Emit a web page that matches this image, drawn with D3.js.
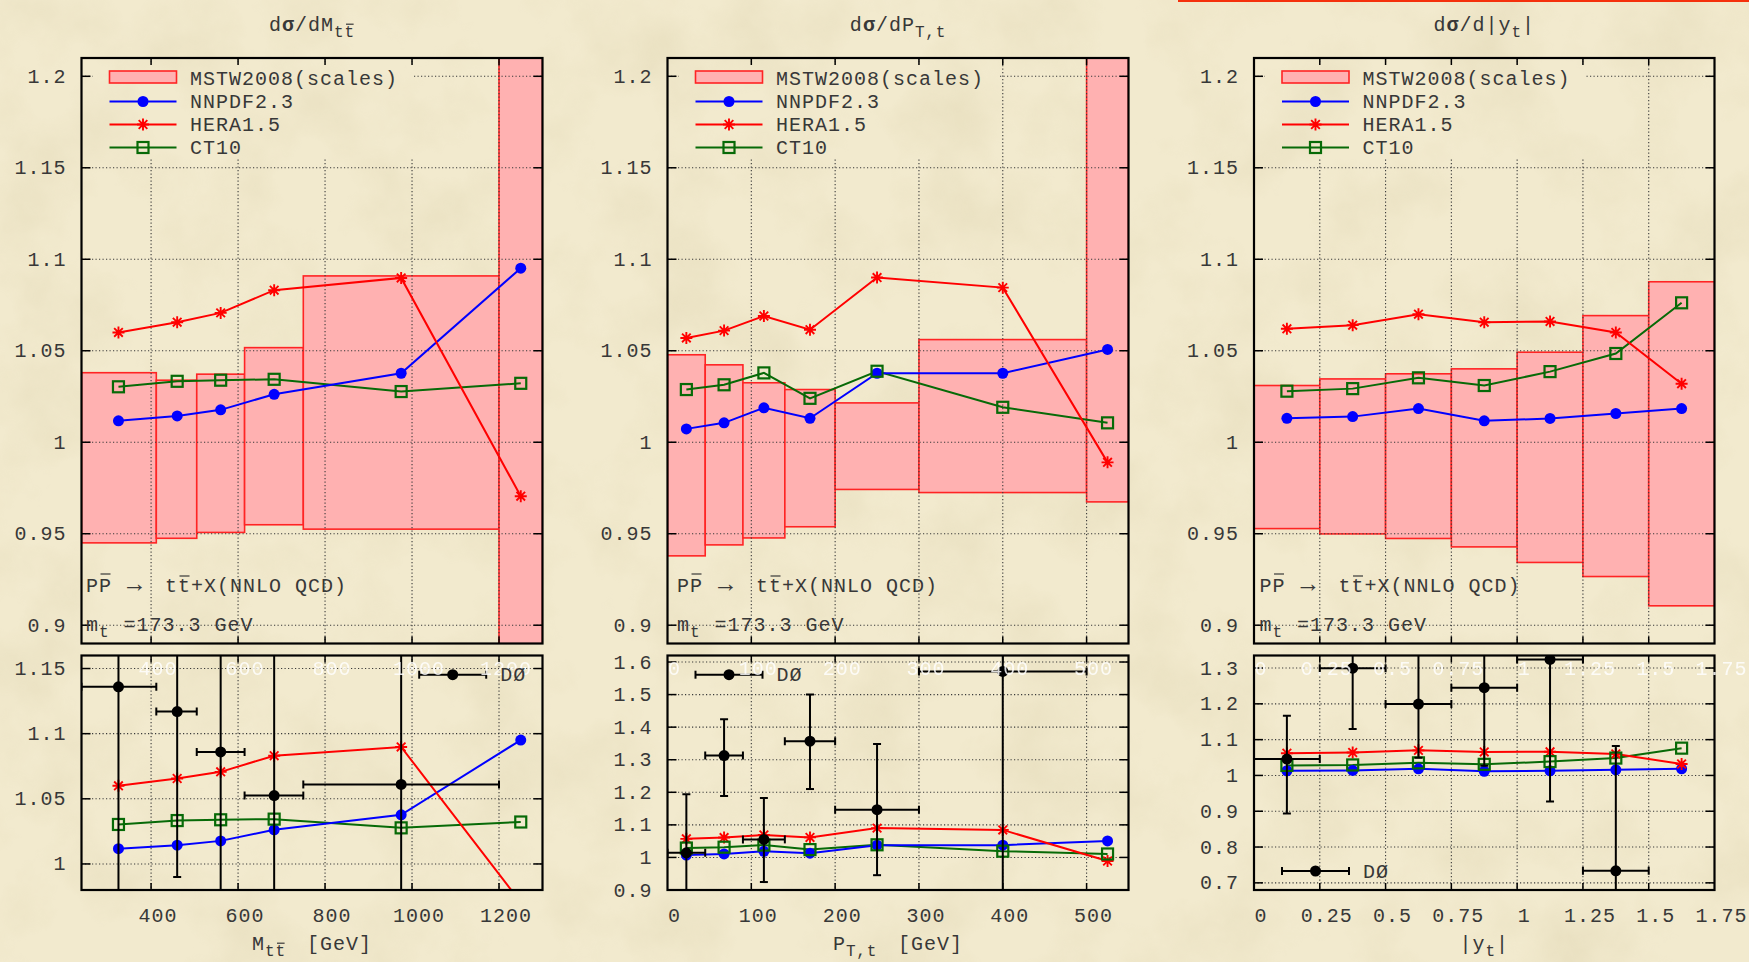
<!DOCTYPE html>
<html>
<head>
<meta charset="utf-8">
<script src="https://cdn.jsdelivr.net/npm/d3@7"></script>
<style>
  html, body { margin: 0; padding: 0; background: #f1e9cd; }
  svg { display: block; }
  text { font-family: "Nimbus Mono PS", "Courier New", "Liberation Mono", monospace; font-size: 20px; letter-spacing: 1px; fill: #383838; }
</style>
</head>
<body>
<svg id="chart" width="1749" height="962"></svg>
<script>
// ---------------- data ----------------
// Top-quark pair invariant mass  M_tt [GeV]
const mttEdges    = [240, 412, 505, 615, 750, 1200, 1300];
const mttCenters  = [325, 460, 560, 683, 975, 1250];
const mttMstwLow  = [0.945, 0.9475, 0.9507, 0.9549, 0.9525, 0.88];
const mttMstwHigh = [1.038, 1.0339, 1.0372, 1.0517, 1.0909, 1.25];
const mttNnpdf    = [1.0117, 1.0144, 1.0177, 1.0262, 1.0377, 1.0951];
const mttHera     = [1.060, 1.0656, 1.0707, 1.0831, 1.0898, 0.9705];
const mttCt10     = [1.0303, 1.0333, 1.0339, 1.0344, 1.0277, 1.0322];
const mttD0       = [1.136, 1.117, 1.086, 1.0525, 1.061];
const mttD0ErrLo  = [0.20, 0.127, 0.15, 0.13, 0.14];
const mttD0ErrHi  = [0.20, 0.127, 0.15, 0.13, 0.14];

// Top-quark transverse momentum  P_T,t [GeV]
const ptEdges    = [0, 45, 90, 140, 200, 300, 500, 550];
const ptCenters  = [22.5, 67.5, 115, 170, 250, 400, 525];
const ptMstwLow  = [0.9379, 0.9439, 0.9477, 0.9538, 0.9742, 0.9725, 0.9674];
const ptMstwHigh = [1.0478, 1.0423, 1.0325, 1.0288, 1.0215, 1.0561, 1.25];
const ptNnpdf    = [1.0073, 1.0106, 1.0188, 1.0131, 1.0377, 1.0377, 1.0507];
const ptHera     = [1.057, 1.061, 1.069, 1.0615, 1.090, 1.0845, 0.989];
const ptCt10     = [1.0288, 1.0314, 1.0379, 1.024, 1.0388, 1.0191, 1.0106];
const ptD0       = [1.014, 1.3126, 1.0554, 1.357, 1.1465, 1.571];
const ptD0ErrLo  = [0.18, 0.124, 0.131, 0.147, 0.201, 0.70];
const ptD0ErrHi  = [0.18, 0.112, 0.127, 0.143, 0.202, 0.70];

// Top-quark rapidity  |y_t|
const ytEdges    = [0, 0.25, 0.5, 0.75, 1.0, 1.25, 1.5, 1.75];
const ytCenters  = [0.125, 0.375, 0.625, 0.875, 1.125, 1.375, 1.625];
const ytMstwLow  = [0.9528, 0.9499, 0.9474, 0.9428, 0.9343, 0.9266, 0.9106];
const ytMstwHigh = [1.031, 1.0346, 1.0374, 1.0401, 1.0492, 1.0692, 1.0877];
const ytNnpdf    = [1.0131, 1.014, 1.0184, 1.0117, 1.013, 1.0157, 1.0184];
const ytHera     = [1.062, 1.064, 1.070, 1.0656, 1.066, 1.060, 1.032];
const ytCt10     = [1.0279, 1.0293, 1.0352, 1.031, 1.0386, 1.0485, 1.0762];
const ytD0       = [1.0457, 1.2995, 1.1994, 1.245, 1.324, 0.7335];
const ytD0ErrLo  = [0.152, 0.17, 0.15, 0.218, 0.397, 0.38];
const ytD0ErrHi  = [0.121, 0.17, 0.15, 0.218, 0.397, 0.349];

// ticks
const mttXTicks = [400, 600, 800, 1000, 1200];
const mttXLabels = ["400", "600", "800", "1000", "1200"];
const ptXTicks = [0, 100, 200, 300, 400, 500];
const ptXLabels = ["0", "100", "200", "300", "400", "500"];
const ytXTicks = [0, 0.25, 0.5, 0.75, 1, 1.25, 1.5, 1.75];
const ytXLabels = ["0", "0.25", "0.5", "0.75", "1", "1.25", "1.5", "1.75"];

const ratioTicks = [0.9, 0.95, 1, 1.05, 1.1, 1.15, 1.2];
const ratioLabels = ["0.9", "0.95", "1", "1.05", "1.1", "1.15", "1.2"];
const mttD0Ticks = [1, 1.05, 1.1, 1.15];
const mttD0Labels = ["1", "1.05", "1.1", "1.15"];
const ptD0Ticks = [0.9, 1, 1.1, 1.2, 1.3, 1.4, 1.5, 1.6];
const ptD0Labels = ["0.9", "1", "1.1", "1.2", "1.3", "1.4", "1.5", "1.6"];
const ytD0Ticks = [0.7, 0.8, 0.9, 1, 1.1, 1.2, 1.3];
const ytD0Labels = ["0.7", "0.8", "0.9", "1", "1.1", "1.2", "1.3"];

const seriesNames = ["MSTW2008(scales)", "NNPDF2.3", "HERA1.5", "CT10"];
const dataName = "DØ";

// ---------------- layout & style ----------------
const W = 1749, H = 962;
const TOP = [58, 643.5], BOT = [655.5, 890];
const COL = { pink: "#ffb1b1", pinkEdge: "#ff2424", blue: "#0000ff", red: "#ff0000", green: "#076a07", ink: "#383838" };

const panels = [
  { L: 81.5, Wd: 461, xDomain: [240, 1300], edges: mttEdges, centers: mttCenters,
    lo: mttMstwLow, hi: mttMstwHigh, nnpdf: mttNnpdf, hera: mttHera, ct10: mttCt10,
    d0: mttD0, d0Lo: mttD0ErrLo, d0Hi: mttD0ErrHi,
    xTicks: mttXTicks, xLabels: mttXLabels, botDomain: [0.98, 1.16], botTicks: mttD0Ticks, botLabels: mttD0Labels,
    title: [{t: "d"}, {t: "σ", bold: true}, {t: "/dM"}, {t: "t", sub: true}, {t: "t", sub: true, over: true}],
    xTitle: [{t: "M"}, {t: "t", sub: true}, {t: "t", sub: true, over: true}, {t: " [GeV]", dx: 8}],
    procDx: 4.5, d0Key: { x0: 337.7, y: 674.7 } },
  { L: 667.5, Wd: 461, xDomain: [0, 550], edges: ptEdges, centers: ptCenters,
    lo: ptMstwLow, hi: ptMstwHigh, nnpdf: ptNnpdf, hera: ptHera, ct10: ptCt10,
    d0: ptD0, d0Lo: ptD0ErrLo, d0Hi: ptD0ErrHi,
    xTicks: ptXTicks, xLabels: ptXLabels, botDomain: [0.9, 1.62], botTicks: ptD0Ticks, botLabels: ptD0Labels,
    title: [{t: "d"}, {t: "σ", bold: true}, {t: "/dP"}, {t: "T,t", sub: true}],
    xTitle: [{t: "P"}, {t: "T,t", sub: true}, {t: " [GeV]", dx: 8}],
    procDx: 9.5, d0Key: { x0: 28, y: 674.7 } },
  { L: 1254, Wd: 460.5, xDomain: [0, 1.75], edges: ytEdges, centers: ytCenters,
    lo: ytMstwLow, hi: ytMstwHigh, nnpdf: ytNnpdf, hera: ytHera, ct10: ytCt10,
    d0: ytD0, d0Lo: ytD0ErrLo, d0Hi: ytD0ErrHi,
    xTicks: ytXTicks, xLabels: ytXLabels, botDomain: [0.68, 1.335], botTicks: ytD0Ticks, botLabels: ytD0Labels,
    title: [{t: "d"}, {t: "σ", bold: true}, {t: "/d|y"}, {t: "t", sub: true}, {t: "|"}],
    xTitle: [{t: "|y"}, {t: "t", sub: true}, {t: "|"}],
    procDx: 5.5, d0Key: { x0: 28, y: 871 } }
];

// ---------------- drawing ----------------
const svg = d3.select("#chart");
const defs = svg.append("defs");

// parchment texture for the page background
const paper = defs.append("filter").attr("id", "paper")
  .attr("x", 0).attr("y", 0).attr("width", "100%").attr("height", "100%");
paper.append("feTurbulence").attr("type", "fractalNoise").attr("baseFrequency", "0.011")
  .attr("numOctaves", 5).attr("seed", 7).attr("result", "n");
paper.append("feColorMatrix").attr("type", "matrix")
  .attr("values", "0 0 0 0 0.55  0 0 0 0 0.47  0 0 0 0 0.25  0.9 0 0 0 -0.38");

svg.append("rect").attr("width", W).attr("height", H).attr("fill", "#f2eace");
svg.append("rect").attr("width", W).attr("height", H).attr("filter", "url(#paper)").attr("opacity", 0.4);
svg.append("rect").attr("x", 1178).attr("y", 0).attr("width", W - 1178).attr("height", 2).attr("fill", "#f5300c");

function richText(g, x, y, segs, anchor, fill) {
  const t = g.append("text").attr("x", x).attr("y", y);
  if (anchor) t.attr("text-anchor", anchor);
  if (fill) t.style("fill", fill);
  let idx = 0, shift = 0;
  const overs = [];
  segs.forEach(s => {
    const ts = t.append("tspan").text(s.t);
    const target = s.sub ? 6 : 0;
    if (target !== shift) { ts.attr("dy", target - shift); shift = target; }
    if (s.sub) ts.style("font-size", "16px").style("letter-spacing", "0.8px");
    if (s.bold) ts.style("font-weight", "bold");
    if (s.dx) ts.attr("dx", s.dx);
    if (s.over) overs.push({ i: idx, sub: !!s.sub, ch: s.t });
    idx += s.t.length;
  });
  overs.forEach(o => {
    const e = t.node().getExtentOfChar(o.i);
    const fs = o.sub ? 16 : 20;
    const base = y + (o.sub ? 6 : 0);
    const h = o.ch === "P" ? 0.9 * fs : 0.8 * fs;
    g.append("line").attr("x1", e.x + 1.5).attr("x2", e.x + 0.6 * fs - 0.5)
      .attr("y1", base - h).attr("y2", base - h)
      .attr("stroke", fill || COL.ink).attr("stroke-width", 1.2);
  });
  return t;
}

function starPath(s) {
  const d = s * 0.72;
  return `M${-s},0H${s}M0,${-s}V${s}M${-d},${-d}L${d},${d}M${-d},${d}L${d},${-d}`;
}

function drawSeries(g, xs, ys, p) {
  const line = d3.line().x((d, i) => xs(p.centers[i])).y(d => ys(d));
  g.append("path").datum(p.ct10).attr("d", line).attr("fill", "none").attr("stroke", COL.green).attr("stroke-width", 2);
  g.append("path").datum(p.nnpdf).attr("d", line).attr("fill", "none").attr("stroke", COL.blue).attr("stroke-width", 2);
  g.append("path").datum(p.hera).attr("d", line).attr("fill", "none").attr("stroke", COL.red).attr("stroke-width", 2);
  p.nnpdf.forEach((v, i) => g.append("circle").attr("cx", xs(p.centers[i])).attr("cy", ys(v)).attr("r", 5.5).attr("fill", COL.blue));
  p.hera.forEach((v, i) => g.append("path").attr("transform", `translate(${xs(p.centers[i])},${ys(v)})`)
    .attr("d", starPath(6)).attr("stroke", COL.red).attr("stroke-width", 1.9).attr("fill", "none"));
  p.ct10.forEach((v, i) => g.append("rect").attr("x", xs(p.centers[i]) - 5.5).attr("y", ys(v) - 5.5)
    .attr("width", 11).attr("height", 11).attr("fill", "none").attr("stroke", COL.green).attr("stroke-width", 2.2));
}

function drawGrid(g, xs, ys, xTicks, yTicks, y0, y1, L, R) {
  const grid = g.append("g").attr("stroke", "#3a3a3a").attr("stroke-width", 1.1).attr("stroke-dasharray", "1.2,2.3");
  yTicks.forEach(v => {
    const y = ys(v);
    if (y < y0 + 1 || y > y1 - 1) return;
    grid.append("line").attr("x1", L).attr("x2", R).attr("y1", y).attr("y2", y);
  });
  xTicks.forEach(v => {
    const x = xs(v);
    if (x < L + 1 || x > R - 1) return;
    grid.append("line").attr("x1", x).attr("x2", x).attr("y1", y0).attr("y2", y1);
  });
  return grid;
}

function drawFrame(g, xs, ys, xTicks, yTicks, y0, y1, L, R) {
  const fr = g.append("g").attr("stroke", "#000").attr("fill", "none");
  yTicks.forEach(v => {
    const y = ys(v);
    if (y < y0 || y > y1) return;
    fr.append("line").attr("x1", L).attr("x2", L + 9).attr("y1", y).attr("y2", y).attr("stroke-width", 1.5);
    fr.append("line").attr("x1", R - 9).attr("x2", R).attr("y1", y).attr("y2", y).attr("stroke-width", 1.5);
  });
  xTicks.forEach(v => {
    const x = xs(v);
    if (x < L + 1 || x > R - 1) return;
    fr.append("line").attr("x1", x).attr("x2", x).attr("y1", y0).attr("y2", y0 + 7).attr("stroke-width", 1.5);
    fr.append("line").attr("x1", x).attr("x2", x).attr("y1", y1 - 7).attr("y2", y1).attr("stroke-width", 1.5);
  });
  fr.append("rect").attr("x", L).attr("y", y0).attr("width", R - L).attr("height", y1 - y0).attr("stroke-width", 2.2);
}

function yLabels(g, ys, ticks, labels, L) {
  ticks.forEach((v, i) => g.append("text").attr("x", L - 15).attr("y", ys(v) + 1)
    .attr("text-anchor", "end").attr("dominant-baseline", "central").text(labels[i]));
}

panels.forEach((p, pi) => {
  const L = p.L, R = p.L + p.Wd;
  const xs = d3.scaleLinear().domain(p.xDomain).range([L, R]);
  const yT = d3.scaleLinear().domain([0.89, 1.21]).range([TOP[1], TOP[0]]);
  const yB = d3.scaleLinear().domain(p.botDomain).range([BOT[1], BOT[0]]);
  const g = svg.append("g");

  defs.append("clipPath").attr("id", `ct${pi}`).append("rect")
    .attr("x", L).attr("y", TOP[0]).attr("width", R - L).attr("height", TOP[1] - TOP[0]);
  defs.append("clipPath").attr("id", `cb${pi}`).append("rect")
    .attr("x", L).attr("y", BOT[0]).attr("width", R - L).attr("height", BOT[1] - BOT[0]);
  const m = defs.append("mask").attr("id", `key${pi}`).attr("maskUnits", "userSpaceOnUse")
    .attr("x", 0).attr("y", 0).attr("width", W).attr("height", H);
  m.append("rect").attr("width", W).attr("height", H).attr("fill", "#fff");
  m.append("rect").attr("x", L + 11).attr("y", 62).attr("width", 321).attr("height", 96).attr("fill", "#000");

  // ---- upper panel: PDF ratios with MSTW2008 scale band ----
  const top = g.append("g").attr("clip-path", `url(#ct${pi})`);
  p.lo.forEach((lo, i) => {
    const x0 = xs(p.edges[i]), x1 = xs(p.edges[i + 1]);
    top.append("rect").attr("x", x0).attr("y", yT(p.hi[i])).attr("width", x1 - x0)
      .attr("height", yT(lo) - yT(p.hi[i])).attr("fill", COL.pink)
      .attr("stroke", COL.pinkEdge).attr("stroke-width", 1.6);
  });
  drawGrid(top, xs, yT, p.xTicks, ratioTicks, TOP[0], TOP[1], L, R).attr("mask", `url(#key${pi})`);
  drawSeries(top, xs, yT, p);
  drawFrame(g, xs, yT, p.xTicks, ratioTicks, TOP[0], TOP[1], L, R);
  yLabels(g, yT, ratioTicks, ratioLabels, L);

  // legend
  const key = g.append("g");
  const ky = [78.5, 101.5, 124.5, 147.5];
  key.append("rect").attr("x", L + 28).attr("y", 71).attr("width", 67).attr("height", 12)
    .attr("fill", COL.pink).attr("stroke", COL.pinkEdge).attr("stroke-width", 1.6);
  [[COL.blue, "c"], [COL.red, "s"], [COL.green, "q"]].forEach(([c, mk], k) => {
    const y = ky[k + 1];
    key.append("line").attr("x1", L + 28).attr("x2", L + 95).attr("y1", y).attr("y2", y).attr("stroke", c).attr("stroke-width", 2);
    const mx = L + 61.5;
    if (mk === "c") key.append("circle").attr("cx", mx).attr("cy", y).attr("r", 5.5).attr("fill", c);
    if (mk === "s") key.append("path").attr("transform", `translate(${mx},${y})`).attr("d", starPath(6)).attr("stroke", c).attr("stroke-width", 1.9);
    if (mk === "q") key.append("rect").attr("x", mx - 5.5).attr("y", y - 5.5).attr("width", 11).attr("height", 11)
      .attr("fill", "none").attr("stroke", c).attr("stroke-width", 2.2);
  });
  seriesNames.forEach((s, k) => key.append("text").attr("x", L + 108.5).attr("y", ky[k] + 1)
    .attr("dominant-baseline", "central").text(s));

  // process labels
  const px = L + p.procDx;
  richText(g, px, 592, [{t: "P"}, {t: "P", over: true}]);
  g.append("text").attr("x", px + 41).attr("y", 592).style("font-size", "25px").style("letter-spacing", "0px").text("→");
  richText(g, px + 79, 592, [{t: "t"}, {t: "t", over: true}, {t: "+X(NNLO QCD)"}]);
  richText(g, px, 631, [{t: "m"}, {t: "t", sub: true}, {t: "=173.3 GeV", dx: 14}]);

  // panel title
  richText(g, (L + R) / 2, 31, p.title, "middle");

  // ---- lower panel: comparison with DØ data ----
  const bot = g.append("g").attr("clip-path", `url(#cb${pi})`);
  drawGrid(bot, xs, yB, p.xTicks, p.botTicks, BOT[0], BOT[1], L, R);
  drawSeries(bot, xs, yB, p);
  const eb = bot.append("g").attr("stroke", "#000").attr("stroke-width", 2);
  p.d0.forEach((v, i) => {
    const cx = xs(p.centers[i]), cy = yB(v);
    const x0 = xs(p.edges[i]), x1 = xs(p.edges[i + 1]);
    const ylo = yB(v - p.d0Lo[i]), yhi = yB(v + p.d0Hi[i]);
    eb.append("line").attr("x1", x0).attr("x2", x1).attr("y1", cy).attr("y2", cy);
    eb.append("line").attr("x1", x0).attr("x2", x0).attr("y1", cy - 4).attr("y2", cy + 4);
    eb.append("line").attr("x1", x1).attr("x2", x1).attr("y1", cy - 4).attr("y2", cy + 4);
    eb.append("line").attr("x1", cx).attr("x2", cx).attr("y1", ylo).attr("y2", yhi);
    eb.append("line").attr("x1", cx - 4).attr("x2", cx + 4).attr("y1", ylo).attr("y2", ylo);
    eb.append("line").attr("x1", cx - 4).attr("x2", cx + 4).attr("y1", yhi).attr("y2", yhi);
    bot.append("circle").attr("cx", cx).attr("cy", cy).attr("r", 5.5).attr("fill", "#000");
  });
  drawFrame(g, xs, yB, p.xTicks, p.botTicks, BOT[0], BOT[1], L, R);
  yLabels(g, yB, p.botTicks, p.botLabels, L);

  // DØ key
  const k0 = L + p.d0Key.x0, kyy = p.d0Key.y;
  const dk = g.append("g").attr("stroke", "#000").attr("stroke-width", 2);
  dk.append("line").attr("x1", k0).attr("x2", k0 + 67).attr("y1", kyy).attr("y2", kyy);
  dk.append("line").attr("x1", k0).attr("x2", k0).attr("y1", kyy - 4).attr("y2", kyy + 4);
  dk.append("line").attr("x1", k0 + 67).attr("x2", k0 + 67).attr("y1", kyy - 4).attr("y2", kyy + 4);
  g.append("circle").attr("cx", k0 + 33.5).attr("cy", kyy).attr("r", 5.5).attr("fill", "#000");

  // x tick labels (the upper panel's copies are printed in white)
  p.xTicks.forEach((v, i) => {
    g.append("text").attr("x", xs(v) + 7).attr("y", 916).attr("text-anchor", "middle")
      .attr("dominant-baseline", "central").text(p.xLabels[i]);
    g.append("text").attr("x", xs(v) + 7).attr("y", 669).attr("text-anchor", "middle")
      .attr("dominant-baseline", "central").style("fill", "#fff").style("opacity", 0.85).text(p.xLabels[i]);
  });
  g.append("text").attr("x", k0 + 81).attr("y", kyy + 1).attr("dominant-baseline", "central").text(dataName);

  // x-axis title
  richText(g, (L + R) / 2, 950, p.xTitle, "middle");
});
</script>
</body>
</html>
